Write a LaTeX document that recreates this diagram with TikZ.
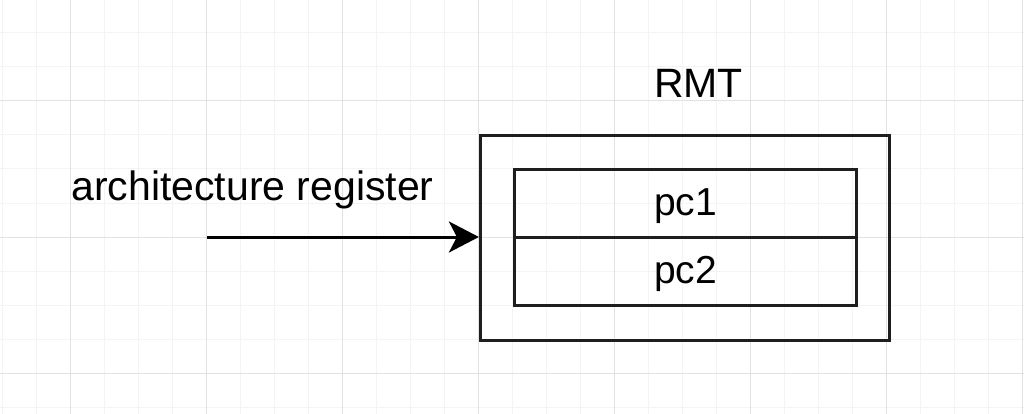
\documentclass[tikz,border=0pt]{standalone}
\usepackage{fontspec}
\setmainfont{Liberation Sans}
\usetikzlibrary{arrows.meta}
\definecolor{minorgrid}{HTML}{F4F4F4}
\definecolor{majorgrid}{HTML}{E2E2E2}
\definecolor{boxline}{HTML}{1E1E1E}
\begin{document}
\begin{tikzpicture}[x=1pt,y=-1pt,
  lbl/.style={font=\fontsize{41}{48}\selectfont, inner sep=0pt},
  outerbox/.style={draw=boxline, line width=3.2pt, minimum width=409pt, minimum height=205pt, inner sep=0pt},
  cell/.style={draw=boxline, line width=3pt, minimum width=342pt, minimum height=68pt, inner sep=0pt,
    font=\fontsize{39}{46}\selectfont, text height=30pt, text depth=7pt},
  conn/.style={draw=black, line width=3pt, -{Stealth[length=30pt,width=31pt,inset=8pt]}}]
\useasboundingbox (0,0) rectangle (1024,414);
\fill[white] (0,0) rectangle (1024,414);
% grid
\foreach \gx in {2,36,...,1022} \draw[minorgrid, line width=1pt] (\gx,0) -- (\gx,414);
\foreach \gy in {33,67,...,407} \draw[minorgrid, line width=1pt] (0,\gy) -- (1024,\gy);
\foreach \gx in {70,206,...,1022} \draw[majorgrid, line width=1pt] (\gx,0) -- (\gx,414);
\foreach \gy in {101,237,373} \draw[majorgrid, line width=1pt] (0,\gy) -- (1024,\gy);
% nodes
\node[outerbox] (rmt) at (685,238) {};
\node[cell] (pc1) at (685.5,203.5) {pc1};
\node[cell] (pc2) at (685.5,271.5) {pc2};
\node[lbl, anchor=base] (rmtlabel) at (698.5,98) {RMT};
\node[lbl, anchor=base] (archlabel) at (252.5,200) {architecture register};
\coordinate (archstart) at (207,237);
\draw[conn] (archstart) -- (rmt.west |- archstart);
\end{tikzpicture}
\end{document}
